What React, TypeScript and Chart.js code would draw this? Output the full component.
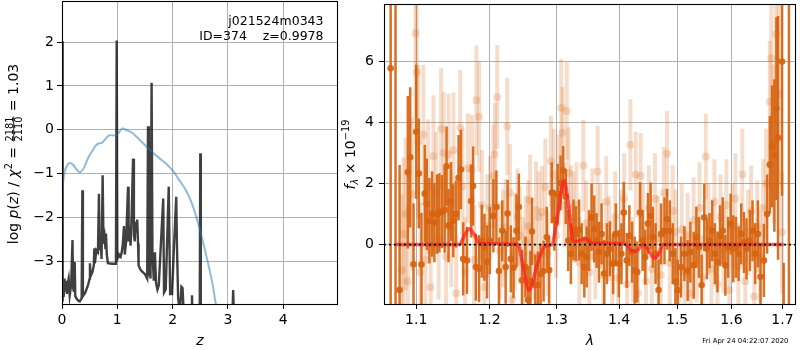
import React, { useEffect, useRef } from 'react';
import { Chart, registerables } from 'chart.js';

Chart.register(...registerables);

const FAMILY = '"DejaVu Sans", "Liberation Sans", sans-serif';

// ---------- Left panel: log p(z) ----------
const zTicks = [0, 1, 2, 3, 4];
const pzTicks = [-3, -2, -1, 0, 1, 2];

const pzZ = [0, 0.008, 0.016, 0.03, 0.045, 0.06, 0.075, 0.09, 0.105, 0.12,
  0.14, 0.165, 0.19, 0.2, 0.215, 0.23, 0.24, 0.26, 0.29, 0.32,
  0.355, 0.368, 0.378, 0.42, 0.47, 0.5, 0.505, 0.515, 0.55, 0.575,
  0.585, 0.595, 0.62, 0.65, 0.668, 0.68, 0.7, 0.715, 0.735, 0.75,
  0.77, 0.785, 0.795, 0.81, 0.83, 0.9, 0.975, 0.989, 1.0, 1.03,
  1.06, 1.08, 1.1, 1.12, 1.135, 1.16, 1.185, 1.195, 1.205, 1.225,
  1.24, 1.26, 1.285, 1.3, 1.315, 1.33, 1.345, 1.36, 1.375, 1.385,
  1.42, 1.46, 1.5, 1.54, 1.555, 1.57, 1.585, 1.6, 1.62, 1.635,
  1.66, 1.68, 1.7, 1.725, 1.75, 1.83, 1.845, 1.875, 1.93, 1.955,
  1.99, 2.02, 2.065, 2.08, 2.1, 2.13, 2.16, 2.18, 2.2, 2.34,
  2.35, 2.36, 2.49, 2.5, 2.51, 3.08, 3.095, 3.11, 3.3];
const pzLog = [-3.9, 2.02, -3.45, -3.82, -3.4, -3.7, -3.45, -3.75, -3.5, -3.4,
  -3.78, -3.55, -2.52, -3.6, -3.7, -3.02, -3.8, -3.85, -3.9, -3.92,
  -3.85, -1.38, -3.8, -3.72, -3.55, -3.4, -3.05, -3.35, -3.25, -3.1,
  -2.71, -3.05, -2.75, -2.8, -1.46, -2.75, -2.55, -2.95, -1.04, -2.6,
  -2.45, -2.7, -2.37, -2.85, -3.05, -3.06, -3.06, 2.04, -2.95, -2.85,
  -2.9, -2.8, -2.6, -2.2, -2.85, -2.55, -1.6, -1.3, -2.55, -2.4,
  -2.65, -1.9, -0.66, -2.4, -2.55, -2.1, -2.35, -2.05, -2.6, -3.1,
  -3.2, -3.25, -3.3, -3.4, 0.08, -3.35, -2.85, -3.4, 1.07, -2.8,
  -3.45, -2.8, -3.5, -3.65, -3.55, -1.57, -3.72, -3.65, -1.3, -3.75,
  -3.75, -2.8, -1.53, -2.75, -3.85, -4.2, -3.59, -3.62, -4.2, -4.2,
  -3.78, -4.3, -4.3, -0.54, -4.3, -4.3, -3.66, -4.3, -4.3];

const priorZ = [0, 0.02, 0.05, 0.1, 0.14, 0.2, 0.29, 0.34, 0.4, 0.47,
  0.53, 0.6, 0.65, 0.72, 0.78, 0.85, 0.96, 1.02, 1.09, 1.17,
  1.29, 1.41, 1.53, 1.65, 1.77, 1.88, 2.0, 2.12, 2.24, 2.36,
  2.48, 2.6, 2.72, 2.78, 2.85];
const priorLog = [-1.45, -1.2, -0.95, -0.8, -0.76, -0.8, -0.95, -0.96, -0.86, -0.65,
  -0.52, -0.38, -0.32, -0.3, -0.22, -0.13, -0.13, -0.08, 0.03, -0.01,
  -0.09, -0.24, -0.39, -0.53, -0.66, -0.77, -0.93, -1.15, -1.38, -1.72,
  -2.22, -2.83, -3.51, -3.98, -4.5];

const fieldName = 'j021524m0343';
const objId = '374';
const zBest = '0.9978';
const chiNum = '2181';
const chiDen = '2110';
const chiRatio = '1.03';

// ---------- Right panel: spectrum ----------
const waveTicks = [1.1, 1.2, 1.3, 1.4, 1.5, 1.6, 1.7];
const fluxTicks = [0, 2, 4, 6];
const waveLimits = [1.0587, 1.7276];
const timeStamp = 'Fri Apr 24 04:22:07 2020';

const darkWave = [1.0671, 1.0733, 1.0785, 1.0891, 1.0922, 1.0965, 1.1000, 1.1034, 1.1069, 1.1113,
  1.1139, 1.1174, 1.1210, 1.1240, 1.1276, 1.1307, 1.1343, 1.1378, 1.1404, 1.1431,
  1.1464, 1.1495, 1.1532, 1.1568, 1.1600, 1.1632, 1.1684, 1.1742, 1.1770, 1.1808,
  1.1854, 1.1892, 1.1929, 1.1967, 1.2005, 1.2057, 1.2100, 1.2137, 1.2185, 1.2234,
  1.2262, 1.2310, 1.2349, 1.2393, 1.2427, 1.2475, 1.2525, 1.2564, 1.2599, 1.2623,
  1.2673, 1.2712, 1.2752, 1.2798, 1.2847, 1.2883, 1.2923, 1.2963, 1.3015, 1.3059,
  1.3099, 1.3140, 1.3179, 1.3220, 1.3262, 1.3301, 1.3350, 1.3391, 1.3433, 1.3470,
  1.3508, 1.3550, 1.3592, 1.3631, 1.3669, 1.3711, 1.3755, 1.3799, 1.3847, 1.3902,
  1.3946, 1.3996, 1.4039, 1.4078, 1.4128, 1.4172, 1.4217, 1.4262, 1.4306, 1.4352,
  1.4397, 1.4442, 1.4488, 1.4534, 1.4573, 1.4620, 1.4672, 1.4717, 1.4776, 1.4822,
  1.4869, 1.4922, 1.4969, 1.5010, 1.5069, 1.5130, 1.5189, 1.5238, 1.5298, 1.5347,
  1.5394, 1.5443, 1.5492, 1.5540, 1.5589, 1.5639, 1.5687, 1.5736, 1.5786, 1.5835,
  1.5885, 1.5936, 1.5985, 1.6035, 1.6086, 1.6137, 1.6188, 1.6239, 1.6289, 1.6355,
  1.6406, 1.6458, 1.6511, 1.6562, 1.6629, 1.6693, 1.6747, 1.6792, 1.6838, 1.6878,
  1.6911, 1.6992, 1.7025, 1.7131];
const darkFlux = [5.78, -5.0, -1.49, 2.37, 2.86, -0.65, 3.70, 2.33, -0.66, 1.67,
  1.32, 0.78, 1.00, 0.72, 1.00, 1.04, 1.08, 1.13, 2.57, 0.62,
  1.41, 0.78, 1.00, 2.19, 2.46, -0.47, -0.52, 1.43, 1.92, -0.74,
  -0.79, 0.11, -0.09, -0.57, 0.13, 0.94, 1.23, -0.87, 0.45, -0.74,
  1.02, -0.47, -0.76, 0.45, 1.23, -1.17, -0.74, -1.82, -1.20, 0.43,
  -1.33, -1.33, -0.97, -0.87, 0.24, -0.84, 1.70, 0.80, 1.65, 2.02,
  2.43, 1.57, 0.13, -0.30, 0.48, 0.35, 0.48, -0.30, -0.74, -0.41,
  0.13, 0.89, 0.51, 0.13, -0.25, 0.35, -0.95, -0.30, -0.14, -0.63,
  0.35, -0.63, -0.30, 1.05, -0.52, 0.29, -0.25, -0.84, -0.90, 1.05,
  0.13, -0.41, 0.69, 0.94, 0.24, -0.30, -1.49, 0.35, 0.45, 0.83,
  0.45, -0.30, -1.22, -1.50, -0.74, -0.30, -0.85, -0.25, -0.68, 0.24,
  -0.09, -1.33, 0.89, -0.14, 0.13, 0.45, -0.30, -0.57, 0.29, 0.45,
  -0.68, -0.09, 0.67, -0.14, -0.09, -0.30, 0.35, 0.07, -0.14, 0.13,
  0.45, -0.30, 0.35, -1.06, -0.52, 1.00, 2.62, 3.22, 2.92, 4.46,
  3.50, 6.00, -2.60, -5.0];
const darkErr = [9, 15, 4.1, 2.5, 2.3, 2.0, 2.2, 1.8, 1.7, 1.6,
  1.5, 1.4, 1.4, 1.3, 1.3, 1.3, 1.2, 1.4, 1.3, 1.2,
  1.3, 1.2, 1.1, 1.4, 1.3, 1.2, 1.1, 1.2, 1.3, 1.1,
  1.1, 1.2, 1.1, 1.2, 1.1, 1.2, 1.2, 1.1, 1.0, 1.2,
  1.1, 1.1, 1.0, 1.2, 1.1, 1.0, 1.0, 1.1, 1.0, 1.1,
  1.0, 1.1, 1.0, 1.0, 1.0, 1.1, 1.0, 1.0, 1.0, 0.9,
  0.8, 0.9, 1.0, 1.0, 1.0, 0.9, 1.0, 1.0, 1.0, 1.0,
  1.0, 1.1, 1.1, 0.9, 1.0, 1.0, 1.1, 1.0, 0.9, 1.0,
  1.0, 1.1, 1.0, 1.0, 0.9, 1.0, 1.0, 1.1, 1.0, 1.0,
  1.0, 0.9, 1.0, 1.1, 1.0, 1.0, 1.0, 1.0, 1.1, 1.0,
  1.0, 1.0, 1.1, 1.0, 1.0, 0.9, 1.0, 1.0, 1.1, 1.0,
  1.0, 1.0, 1.1, 1.0, 0.9, 1.0, 1.0, 1.0, 1.0, 1.1,
  1.0, 1.0, 1.0, 1.1, 1.0, 0.9, 1.0, 1.0, 1.0, 1.0,
  1.0, 1.0, 1.1, 1.1, 1.2, 1.3, 1.6, 2.0, 2.5, 3.0,
  4.0, 4.4, 2.0, 15];

const lightWave = [1.0811, 1.0836, 1.0862, 1.0891, 1.0948, 1.0991, 1.1008, 1.1026, 1.1056, 1.1095,
  1.1122, 1.1157, 1.1191, 1.1227, 1.1263, 1.1298, 1.1330, 1.1365, 1.1397, 1.1432,
  1.1468, 1.1499, 1.1536, 1.1591, 1.1622, 1.1659, 1.1696, 1.1752, 1.1784, 1.1816,
  1.1854, 1.1892, 1.1929, 1.1967, 1.2009, 1.2056, 1.2080, 1.2113, 1.2151, 1.2195,
  1.2233, 1.2256, 1.2296, 1.2329, 1.2369, 1.2408, 1.2442, 1.2486, 1.2530, 1.2564,
  1.2594, 1.2634, 1.2684, 1.2724, 1.2774, 1.2825, 1.2860, 1.2910, 1.2952, 1.2993,
  1.3028, 1.3070, 1.3090, 1.3120, 1.3156, 1.3182, 1.3224, 1.3261, 1.3308, 1.3355,
  1.3418, 1.3465, 1.3513, 1.3562, 1.3610, 1.3647, 1.3690, 1.3739, 1.3788, 1.3836,
  1.3886, 1.3935, 1.3984, 1.4034, 1.4084, 1.4133, 1.4189, 1.4234, 1.4279, 1.4318,
  1.4364, 1.4403, 1.4454, 1.4505, 1.4557, 1.4608, 1.4660, 1.4712, 1.4764, 1.4822,
  1.4869, 1.4922, 1.4975, 1.5028, 1.5082, 1.5136, 1.5189, 1.5243, 1.5297, 1.5351,
  1.5405, 1.5460, 1.5520, 1.5569, 1.5625, 1.5680, 1.5736, 1.5792, 1.5848, 1.5904,
  1.5961, 1.6018, 1.6074, 1.6131, 1.6208, 1.6265, 1.6322, 1.6380, 1.6439, 1.6497,
  1.6556, 1.6615, 1.6673, 1.6746, 1.6778, 1.6822, 1.6871, 1.6925, 1.6991];
const lightFlux = [-0.84, 0.35, 1.0, -1.2, 1.65, 6.93, 5.65, 3.38, -0.9, 3.60,
  -0.5, 1.9, -1.4, 2.9, 1.70, 0.2, 3.79, 3.00, -0.4, 2.95,
  0.5, 3.09, -1.6, 3.83, 1.9, -0.9, 2.5, 2.46, -0.5, 4.73,
  4.19, 1.3, -1.4, 0.6, 1.2, 2.24, 2.95, 4.84, -0.2, 0.2,
  0.56, 3.87, 1.7, -1.8, 0.1, 0.9, 0.3, -0.6, 0.1, 0.6,
  1.45, -0.4, 1.13, 0.9, 1.07, 1.88, -0.3, 2.73, 2.30, 0.3,
  2.1, 4.48, 3.67, 1.3, 4.38, 2.35, 1.2, 0.9, 1.3, -0.6,
  2.59, 0.7, -0.9, 1.0, -0.4, 2.40, 0.6, -1.0, 1.4, 0.2,
  -0.6, 0.9, -1.1, 0.4, 1.5, -1.3, 3.27, -0.5, 2.30, -1.6,
  2.26, 0.6, -1.2, 1.2, -0.8, 1.5, 0.2, -1.0, 1.7, 2.98,
  -0.6, 1.1, 0.4, -1.4, 0.5, -0.9, 0.3, -1.6, 0.8, -0.5,
  1.2, -1.1, 2.89, 0.5, -0.8, 1.4, -1.3, 0.9, -0.2, 1.3,
  -1.5, 0.6, 1.5, -0.7, 2.30, -1.2, 0.4, 1.1, -1.7, 0.6,
  -0.4, 1.2, 2.0, 4.68, 6.11, 3.3, 6.9, 4.95, 0.40];
const lightErr = [2.5, 2.5, 2.5, 2.5, 2.5, 2.8, 2.7, 2.5, 2.3, 2.3,
  2.2, 2.2, 2.2, 2.0, 2.0, 2.0, 2.0, 2.0, 2.0, 2.0,
  1.9, 1.9, 1.9, 1.9, 1.9, 1.8, 1.8, 1.8, 1.8, 1.8,
  1.8, 1.8, 1.7, 1.7, 1.7, 1.7, 1.7, 1.7, 1.6, 1.6,
  1.6, 1.6, 1.6, 1.6, 1.6, 1.6, 1.6, 1.5, 1.5, 1.5,
  1.5, 1.4, 1.6, 1.5, 1.5, 1.6, 1.4, 1.5, 1.5, 1.4,
  1.5, 1.6, 1.5, 1.4, 1.6, 1.5, 1.4, 1.5, 1.4, 1.5,
  1.5, 1.4, 1.4, 1.5, 1.4, 1.5, 1.4, 1.4, 1.5, 1.4,
  1.4, 1.5, 1.4, 1.4, 1.5, 1.4, 1.5, 1.4, 1.4, 1.5,
  1.4, 1.4, 1.5, 1.4, 1.4, 1.5, 1.4, 1.4, 1.5, 1.4,
  1.4, 1.5, 1.4, 1.4, 1.5, 1.4, 1.4, 1.5, 1.4, 1.4,
  1.5, 1.4, 1.4, 1.5, 1.4, 1.4, 1.5, 1.4, 1.4, 1.5,
  1.4, 1.4, 1.5, 1.4, 1.5, 1.4, 1.4, 1.5, 1.4, 1.5,
  1.5, 1.6, 1.8, 2.0, 2.4, 2.6, 3.0, 3.0, 2.0];

const modelWave = [1.0733, 1.158, 1.165, 1.1714, 1.178, 1.1864, 1.2412, 1.248, 1.258, 1.266,
  1.2724, 1.2825, 1.2925, 1.3018, 1.3114, 1.3182, 1.3261, 1.335, 1.3443, 1.355,
  1.41, 1.4205, 1.428, 1.4403, 1.45, 1.4603, 1.468, 1.4747, 1.7025];
const modelFlux = [0, 0, 0.3, 0.52, 0.35, 0.03, 0, -0.6, -1.5, -1.0,
  -0.5, -0.05, 0, 1.0, 2.1, 1.3, 0.1, 0.12, 0.2, 0.05,
  0.02, -0.2, -0.22, 0, -0.2, -0.45, -0.3, 0, 0];

const DARK = 'rgba(214,100,16,0.92)';
const LIGHT = 'rgba(214,100,16,0.22)';

type Part = { t?: string; it?: boolean; sz?: number; dy?: number; frac?: [string, string] };

function partFont(p: Part, base: number) {
  return `${p.it ? 'italic ' : ''}${p.sz ?? base}px ${FAMILY}`;
}

function drawVerticalMath(ctx: CanvasRenderingContext2D, parts: Part[], baseX: number, centerY: number, base: number) {
  ctx.save();
  ctx.fillStyle = '#000';
  ctx.textBaseline = 'alphabetic';
  ctx.textAlign = 'left';
  const widths = parts.map((p) => {
    ctx.font = partFont(p, base);
    if (p.frac) return Math.max(ctx.measureText(p.frac[0]).width, ctx.measureText(p.frac[1]).width) + 2;
    return ctx.measureText(p.t as string).width;
  });
  const total = widths.reduce((a, b) => a + b, 0);
  ctx.translate(baseX, centerY);
  ctx.rotate(-Math.PI / 2);
  let x = -total / 2;
  parts.forEach((p, i) => {
    ctx.font = partFont(p, base);
    if (p.frac) {
      const w = widths[i];
      ctx.textAlign = 'center';
      ctx.fillText(p.frac[0], x + w / 2, -5);
      ctx.fillText(p.frac[1], x + w / 2, 4.5);
      ctx.fillRect(x + 1, -4.2, w - 2, 0.9);
      ctx.textAlign = 'left';
    } else {
      ctx.fillText(p.t as string, x, p.dy ?? 0);
    }
    x += widths[i];
  });
  ctx.restore();
}

const framePlugin = {
  id: 'frame',
  afterDraw(chart: any) {
    const { ctx, chartArea } = chart;
    const l = Math.round(chartArea.left) + 0.5;
    const t = Math.round(chartArea.top) + 0.5;
    const r = Math.round(chartArea.right) - 0.5;
    const b = Math.round(chartArea.bottom) + 0.5;
    ctx.save();
    ctx.strokeStyle = '#000';
    ctx.lineWidth = 1.1;
    ctx.strokeRect(l, t, r - l, b - t);
    ctx.restore();
  },
};

const leftTextPlugin = {
  id: 'leftText',
  afterDraw(chart: any) {
    const { ctx, chartArea } = chart;
    ctx.save();
    ctx.fillStyle = '#000';
    ctx.textBaseline = 'alphabetic';
    ctx.textAlign = 'right';
    ctx.font = `12.5px ${FAMILY}`;
    ctx.fillText(fieldName, chartArea.right - 14.5, 25);
    ctx.fillText(`ID=${objId}    z=${zBest}`, chartArea.right - 14.5, 39.5);
    ctx.textAlign = 'center';
    ctx.font = `italic 14px ${FAMILY}`;
    ctx.fillText('z', (chartArea.left + chartArea.right) / 2, 344.5);
    ctx.restore();
    drawVerticalMath(ctx, [
      { t: 'log' }, { t: ' ' }, { t: 'p', it: true }, { t: '(' }, { t: 'z', it: true }, { t: ')' },
      { t: ' / ' }, { t: 'χ', it: true }, { t: '2', sz: 9.8, dy: -6 }, { t: ' = ' },
      { frac: [chiNum, chiDen], sz: 9.8 }, { t: ` = ${chiRatio}` },
    ], 17.5, 154, 14);
  },
};

const rightTextPlugin = {
  id: 'rightText',
  afterDraw(chart: any) {
    const { ctx, chartArea } = chart;
    ctx.save();
    ctx.fillStyle = '#000';
    ctx.textBaseline = 'alphabetic';
    ctx.textAlign = 'center';
    ctx.font = `italic 14px ${FAMILY}`;
    ctx.fillText('λ', (chartArea.left + chartArea.right) / 2, 345);
    ctx.textAlign = 'right';
    ctx.font = `6.9px ${FAMILY}`;
    ctx.fillText(timeStamp, 788.5, 342.5);
    ctx.restore();
    drawVerticalMath(ctx, [
      { t: 'f', it: true }, { t: 'λ', it: true, sz: 9.8, dy: 3 }, { t: ' × 10' }, { t: '−19', sz: 9.8, dy: -6 },
    ], 355, 154.5, 14);
  },
};

const minus = (v: number | string) => String(v).replace('-', '−');

function axisCommon(ticksArr: number[], pad: number, cb: (v: any) => string, size: { w?: number; h?: number }) {
  return {
    offset: false,
    grid: { color: '#b0b0b0', lineWidth: 1, drawTicks: true, tickLength: 5, tickColor: '#000', tickWidth: 1, offset: false },
    border: { display: false },
    afterBuildTicks: (s: any) => { s.ticks = ticksArr.map((v) => ({ value: v })); },
    afterFit: (s: any) => {
      if (size.w !== undefined) s.width = size.w;
      if (size.h !== undefined) s.height = size.h;
      s.paddingTop = 0; s.paddingBottom = 0; s.paddingLeft = 0; s.paddingRight = 0;
    },
    ticks: { font: { family: FAMILY, size: 14 }, color: '#000', padding: pad, maxRotation: 0, minRotation: 0, autoSkip: false, callback: cb },
  };
}

export default function App() {
  const leftRef = useRef<HTMLCanvasElement | null>(null);
  const rightRef = useRef<HTMLCanvasElement | null>(null);

  useEffect(() => {
    const left = new Chart(leftRef.current as HTMLCanvasElement, {
      type: 'line',
      data: {
        datasets: [
          {
            data: priorZ.map((z, i) => ({ x: z, y: priorLog[i] })),
            borderColor: 'rgba(31,119,180,0.5)', borderWidth: 2, pointRadius: 0, tension: 0.3, fill: false,
          },
          {
            data: pzZ.map((z, i) => ({ x: z, y: pzLog[i] })),
            borderColor: 'rgba(0,0,0,0.75)', borderWidth: 2.4, pointRadius: 0, tension: 0, fill: false,
          },
        ],
      } as any,
      options: {
        responsive: false, animation: false, devicePixelRatio: 1,
        layout: { padding: { left: 0, right: 462, top: 1, bottom: 0 } },
        plugins: { legend: { display: false }, tooltip: { enabled: false } },
        events: [],
        scales: {
          x: { type: 'linear', min: 0, max: 4.99, ...axisCommon(zTicks, 3, (v) => minus(v), { h: 46 }) },
          y: { type: 'linear', min: -3.98, max: 2.94, ...axisCommon(pzTicks, 3, (v) => minus(v), { w: 62 }) },
        },
      } as any,
      plugins: [framePlugin, leftTextPlugin],
    });

    const right = new Chart(rightRef.current as HTMLCanvasElement, {
      type: 'scatter',
      data: {
        datasets: [
          {
            type: 'line',
            data: waveLimits.map((w) => ({ x: w, y: 0 })),
            borderColor: '#000', borderWidth: 1.8, borderDash: [2, 3], pointRadius: 0, fill: false,
          },
          {
            type: 'line',
            data: modelWave.map((w, i) => ({ x: w, y: modelFlux[i] })),
            borderColor: 'rgba(255,30,30,0.72)', borderWidth: 3.5, pointRadius: 0, tension: 0.4,
            cubicInterpolationMode: 'monotone', fill: false,
          },
          {
            type: 'scatter',
            data: darkWave.map((w, i) => ({ x: w, y: darkFlux[i] })),
            backgroundColor: DARK, borderWidth: 0, pointRadius: 3.3,
          },
          {
            type: 'bar',
            data: darkWave.map((w, i) => ({ x: w, y: [darkFlux[i] - darkErr[i], darkFlux[i] + darkErr[i]] })),
            backgroundColor: DARK, borderWidth: 0, barThickness: 2.5, stack: 'err', inflateAmount: 0,
          },
          {
            type: 'scatter',
            data: lightWave.map((w, i) => ({ x: w, y: lightFlux[i] })),
            backgroundColor: LIGHT, borderWidth: 0, pointRadius: 4,
          },
          {
            type: 'bar',
            data: lightWave.map((w, i) => ({ x: w, y: [lightFlux[i] - lightErr[i], lightFlux[i] + lightErr[i]] })),
            backgroundColor: LIGHT, borderWidth: 0, barThickness: 4, stack: 'err', inflateAmount: 0,
          },
        ],
      } as any,
      options: {
        responsive: false, animation: false, devicePixelRatio: 1,
        layout: { padding: { left: 344, right: 1, top: 1, bottom: 0 } },
        plugins: { legend: { display: false }, tooltip: { enabled: false } },
        events: [],
        scales: {
          x: {
            type: 'logarithmic', min: waveLimits[0], max: waveLimits[1],
            ...axisCommon(waveTicks, 3, (v) => Number(v).toFixed(1), { h: 46 }),
          },
          y: {
            type: 'linear', min: -1.95, max: 7.89, stacked: false,
            ...axisCommon(fluxTicks, 5, (v) => minus(v), { w: 40 }),
          },
        },
      } as any,
      plugins: [framePlugin, rightTextPlugin],
    });

    return () => { left.destroy(); right.destroy(); };
  }, []);

  return (
    <div style={{ position: 'fixed', left: 0, top: 0, width: 800, height: 350, background: '#fff' }}>
      <canvas ref={leftRef} width={800} height={350} style={{ position: 'absolute', left: 0, top: 0, width: 800, height: 350 }} />
      <canvas ref={rightRef} width={800} height={350} style={{ position: 'absolute', left: 0, top: 0, width: 800, height: 350 }} />
    </div>
  );
}
